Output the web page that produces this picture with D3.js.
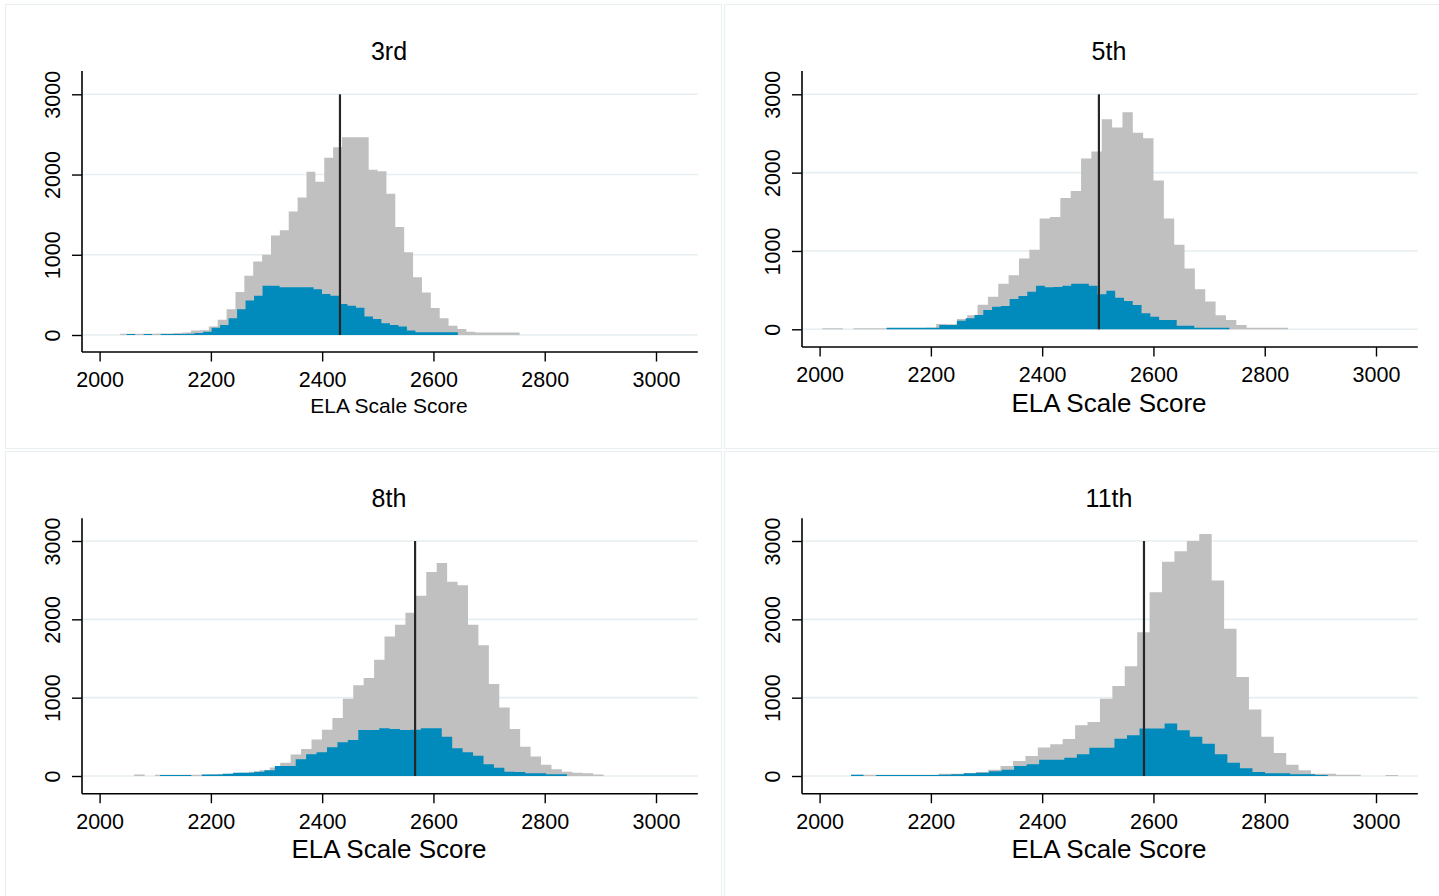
<!DOCTYPE html>
<html>
<head>
<meta charset="utf-8">
<script src="https://cdn.jsdelivr.net/npm/d3@7"></script>
<style>
  body { margin: 0; background: #fff; }
  svg text { font-family: "Liberation Sans", Arial, Helvetica, sans-serif; fill: #000; }
</style>
</head>
<body>
<svg id="chart" width="1439" height="896"></svg>
<script>
// grade panels
const grades = ["3rd", "5th", "8th", "11th"];
const cutScores = [2432, 2502, 2567, 2583];

// all students histogram (grey): first bin edge, bin width, counts
const allBinStart = [2036.7, 2004.9, 2062.1, 2057.4];
const allBinWidth = [15.96, 18.6, 18.75, 22.32];
const allCounts3 = [15, 15, 15, 15, 20, 20, 25, 30, 55, 60, 105, 190, 320, 535, 740, 915, 1000, 1240, 1305, 1540, 1715, 2035, 1910, 2210, 2340, 2465, 2465, 2465, 2060, 2040, 1760, 1345, 1030, 720, 530, 335, 210, 115, 75, 40, 30, 30, 30, 30, 30];
const allCounts5 = [15, 15, 0, 15, 15, 15, 15, 15, 15, 15, 20, 68, 65, 130, 180, 315, 415, 580, 690, 905, 1015, 1415, 1435, 1675, 1765, 2180, 2270, 2680, 2575, 2770, 2510, 2440, 1900, 1415, 1080, 775, 510, 355, 180, 120, 55, 20, 20, 20, 20];
const allCounts8 = [20, 0, 15, 15, 15, 15, 15, 20, 25, 30, 40, 55, 75, 110, 170, 275, 345, 465, 590, 740, 985, 1160, 1250, 1485, 1780, 1930, 2085, 2300, 2605, 2720, 2480, 2435, 1930, 1670, 1175, 875, 600, 375, 250, 145, 85, 55, 40, 35, 20];
const allCounts11 = [15, 15, 15, 15, 15, 15, 15, 30, 30, 35, 50, 80, 128, 190, 255, 365, 405, 473, 648, 690, 985, 1150, 1400, 1835, 2345, 2735, 2870, 3000, 3090, 2495, 1880, 1265, 850, 500, 295, 145, 72, 30, 30, 17, 17, 0, 0, 12];

// subgroup histogram (blue)
const subBinStart = [2048.7, 2120.4, 2108.7, 2056.4];
const subBinWidth = [15.26, 15.8, 18.75, 22.55];
const subCounts3 = [12, 0, 12, 0, 12, 12, 12, 15, 25, 40, 90, 125, 210, 320, 430, 490, 615, 615, 595, 595, 595, 595, 570, 510, 490, 385, 365, 340, 230, 200, 145, 125, 105, 55, 35, 35, 35, 35, 35];
const subCounts5 = [20, 20, 20, 20, 20, 20, 55, 55, 110, 140, 183, 246, 289, 297, 387, 425, 480, 557, 536, 540, 557, 583, 583, 557, 447, 493, 404, 361, 310, 204, 161, 119, 119, 46, 46, 20, 20, 20, 20];
const subCounts8 = [13, 13, 13, 0, 20, 20, 30, 42, 42, 55, 72, 128, 128, 213, 277, 302, 366, 430, 460, 587, 587, 608, 600, 587, 590, 608, 608, 502, 353, 302, 260, 149, 106, 55, 51, 34, 34, 21, 21];
const subCounts11 = [17, 0, 13, 13, 13, 13, 13, 17, 21, 34, 43, 60, 81, 128, 149, 209, 209, 234, 277, 362, 362, 477, 520, 605, 605, 669, 584, 500, 413, 277, 170, 98, 51, 34, 34, 21, 21, 13];

const xTicks = [2000, 2200, 2400, 2600, 2800, 3000];
const yTicks = [0, 1000, 2000, 3000];
const xTitle = "ELA Scale Score";

const allCounts = [allCounts3, allCounts5, allCounts8, allCounts11];
const subCounts = [subCounts3, subCounts5, subCounts8, subCounts11];

// layout (pixels, relative to each panel's corner)
const origins = [[0, 0], [720, 0], [0, 450], [720, 450]];
const layouts = [
  { yZero: 335, y3000: 94.3, axisY: 352, axisTop: 71, tickBase: 387.3, titleBase: 60, xTitleBase: 413, xTitleSize: 21 },
  { yZero: 329.3, y3000: 94.3, axisY: 347, axisTop: 71, tickBase: 382, titleBase: 60, xTitleBase: 412, xTitleSize: 26 },
  { yZero: 326, y3000: 91, axisY: 343.7, axisTop: 68.3, tickBase: 379, titleBase: 57, xTitleBase: 408, xTitleSize: 26 },
  { yZero: 326, y3000: 91, axisY: 343.7, axisTop: 68.3, tickBase: 379, titleBase: 57, xTitleBase: 408, xTitleSize: 26 }
];
const axisLeftX = 82, axisRightX = 697.8;

const GREY = "#c0c0c0", BLUE = "#008bbc", GRID = "#e6eef1";

const svg = d3.select("#chart");
svg.append("rect").attr("width", 1439).attr("height", 896).attr("fill", "#fff");

// panel frames
const frames = [[5.5, 4.5, 716, 444], [724.5, 4.5, 720, 444], [5.5, 451.5, 716, 450], [724.5, 451.5, 720, 450]];
frames.forEach(f => {
  svg.append("rect")
    .attr("x", f[0]).attr("y", f[1]).attr("width", f[2]).attr("height", f[3])
    .attr("fill", "none").attr("stroke", "#eceff2").attr("stroke-width", 1.2);
});

// step outline of a histogram: one point per bin edge
const steps = (start, width, counts) => {
  const pts = counts.map((c, i) => ({ x: start + i * width, n: c }));
  pts.push({ x: start + counts.length * width, n: counts[counts.length - 1] });
  return pts;
};

grades.forEach((grade, gi) => {
  const L = layouts[gi];
  const g = svg.append("g").attr("transform", `translate(${origins[gi][0]},${origins[gi][1]})`);

  const x = d3.scaleLinear().domain([2000, 3000]).range([99.6, 656]);
  const y = d3.scaleLinear().domain([0, 3000]).range([L.yZero, L.y3000]);

  // gridlines
  g.selectAll("line.grid")
    .data(yTicks)
    .enter()
    .append("line")
    .attr("class", "grid")
    .attr("x1", axisLeftX).attr("x2", axisRightX)
    .attr("y1", d => y(d)).attr("y2", d => y(d))
    .attr("stroke", GRID).attr("stroke-width", 1.6);

  // histograms as stepped areas
  const area = d3.area()
    .curve(d3.curveStepAfter)
    .x(d => x(d.x))
    .y0(y(0))
    .y1(d => y(d.n));

  g.append("path")
    .datum(steps(allBinStart[gi], allBinWidth[gi], allCounts[gi]))
    .attr("d", area)
    .attr("fill", GREY);
  g.append("path")
    .datum(steps(subBinStart[gi], subBinWidth[gi], subCounts[gi]))
    .attr("d", area)
    .attr("fill", BLUE);

  // cut score line
  g.append("line")
    .attr("x1", x(cutScores[gi])).attr("x2", x(cutScores[gi]))
    .attr("y1", y(0)).attr("y2", y(3000))
    .attr("stroke", "#262626").attr("stroke-width", 2.2);

  // y axis
  const yAxis = g.append("g")
    .attr("transform", `translate(${axisLeftX},0)`)
    .call(d3.axisLeft(y).tickValues(yTicks).tickSize(10).tickFormat(d3.format("d")));
  yAxis.select(".domain").remove();
  yAxis.selectAll(".tick line").attr("stroke", "#000").attr("stroke-width", 1.4);
  yAxis.selectAll(".tick text")
    .attr("transform", "rotate(-90)")
    .attr("x", 0).attr("y", -22.3).attr("dy", 0)
    .attr("text-anchor", "middle")
    .style("font-size", "21.5px");
  g.append("line")
    .attr("x1", axisLeftX).attr("x2", axisLeftX)
    .attr("y1", L.axisTop).attr("y2", L.axisY)
    .attr("stroke", "#000").attr("stroke-width", 1.6);

  // x axis
  const xAxis = g.append("g")
    .attr("transform", `translate(0,${L.axisY})`)
    .call(d3.axisBottom(x).tickValues(xTicks).tickSize(9.5).tickFormat(d3.format("d")));
  xAxis.select(".domain").remove();
  xAxis.selectAll(".tick line").attr("stroke", "#000").attr("stroke-width", 1.4);
  xAxis.selectAll(".tick text")
    .attr("y", L.tickBase - L.axisY).attr("dy", 0)
    .style("font-size", "21.5px");
  g.append("line")
    .attr("x1", axisLeftX).attr("x2", axisRightX)
    .attr("y1", L.axisY).attr("y2", L.axisY)
    .attr("stroke", "#000").attr("stroke-width", 1.6);

  // titles
  g.append("text")
    .attr("x", 389).attr("y", L.titleBase)
    .attr("text-anchor", "middle")
    .style("font-size", "25px")
    .text(grade);
  g.append("text")
    .attr("x", 389).attr("y", L.xTitleBase)
    .attr("text-anchor", "middle")
    .style("font-size", L.xTitleSize + "px")
    .text(xTitle);
});
</script>
</body>
</html>
